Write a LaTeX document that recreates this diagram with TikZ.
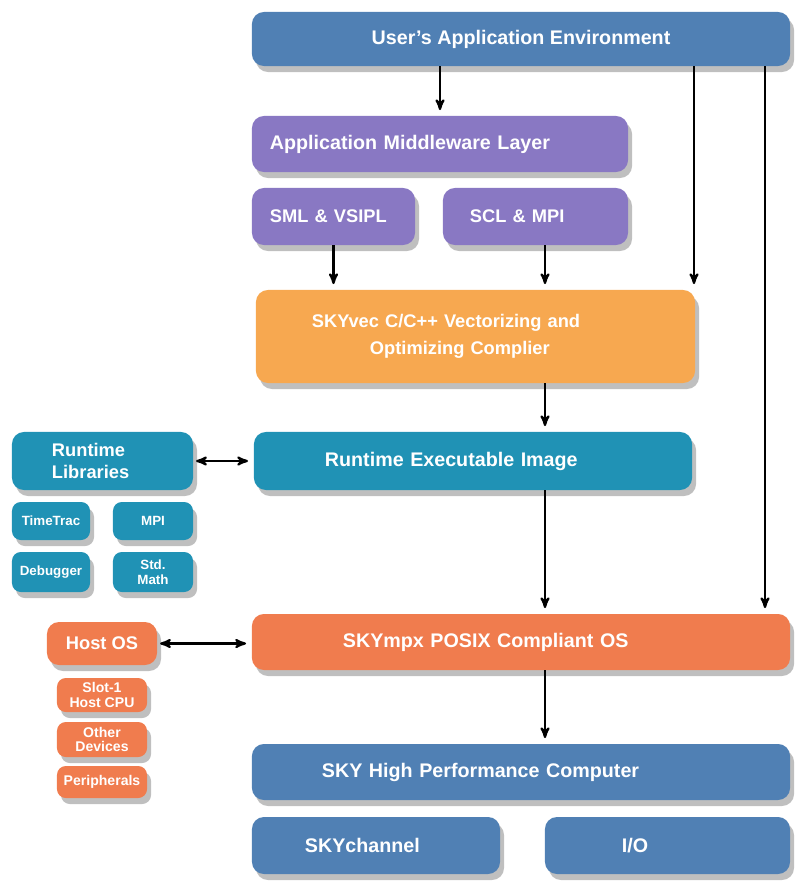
\documentclass[tikz,border=0pt]{standalone}
\usepackage{fontspec}
\setmainfont{Liberation Sans}
\usetikzlibrary{arrows,calc,shadows}
\tikzset{>=stealth'}
\definecolor{skyblue}{RGB}{80,128,180}
\definecolor{mwpurple}{RGB}{137,120,195}
\definecolor{vecorange}{RGB}{247,168,80}
\definecolor{rtteal}{RGB}{32,146,181}
\definecolor{osorange}{RGB}{240,124,78}

\begin{document}
\begin{tikzpicture}[x=0.025cm,y=-0.025cm,
        box/.style={rounded corners=0.3cm,text=white,inner sep=0pt,
          font=\fontsize{13}{15}\selectfont\bfseries,align=center,
          drop shadow={shadow xshift=0.1cm,shadow yshift=-0.15cm,opacity=0.5}},
        big/.style={box,font=\fontsize{14}{16}\selectfont\bfseries},
        small/.style={box,rounded corners=0.22cm,
          font=\fontsize{9.5}{10.5}\selectfont\bfseries},
        link/.style={draw,->,line width=1.6pt,shorten >=4pt}]
        \useasboundingbox (0,0) rectangle (800,882);
        % main column
        \node[big,fill=skyblue,minimum width=13.45cm,minimum height=1.35cm]
          (uae) at (521,39) {User's Application Environment};
        \node[big,fill=mwpurple,minimum width=9.4cm,minimum height=1.4cm,
          text width=8.5cm,align=left] (aml) at (440,144) {Application Middleware Layer};
        \node[box,fill=mwpurple,minimum width=4.075cm,minimum height=1.425cm,
          text width=3.175cm,align=left] (sml) at (333.5,216.5) {SML \& VSIPL};
        \node[box,fill=mwpurple,minimum width=4.625cm,minimum height=1.425cm,
          text width=3.275cm,align=left] (scl) at (535.5,216.5) {SCL \& MPI};
        \node[box,fill=vecorange,minimum width=10.975cm,minimum height=2.325cm,
          text width=8.175cm,align=left] (comp) at (475.5,336.5)
          {SKYvec C/C++ Vectorizing and\\[4pt]\hspace*{1.45cm}Optimizing Complier};
        \node[big,fill=rtteal,minimum width=10.95cm,minimum height=1.45cm,
          text width=7.4cm,align=left] (rei) at (473,461) {Runtime Executable Image};
        \node[big,fill=osorange,minimum width=13.45cm,minimum height=1.4cm,
          text width=8.9cm,align=left] (os) at (521,642) {SKYmpx POSIX Compliant OS};
        \node[big,fill=skyblue,minimum width=13.45cm,minimum height=1.4cm,
          text width=9.95cm,align=left] (hpc) at (521,772) {SKY High Performance Computer};
        \node[big,fill=skyblue,minimum width=6.2cm,minimum height=1.425cm,
          text width=3.55cm,align=left] (chan) at (376,845.5) {SKYchannel};
        \node[big,fill=skyblue,minimum width=6.125cm,minimum height=1.425cm,
          text width=2.275cm,align=left] (io) at (667.5,845.5) {I/O};
        % runtime libraries
        \node[box,fill=rtteal,minimum width=4.525cm,minimum height=1.45cm,
          text width=2.525cm,align=left] (rl) at (102.5,461) {Runtime\\Libraries};
        \node[small,fill=rtteal,minimum width=1.95cm,minimum height=0.95cm]
          (tt) at (51,521) {TimeTrac};
        \node[small,fill=rtteal,minimum width=2cm,minimum height=0.95cm]
          (mpi) at (153,521) {MPI};
        \node[small,fill=rtteal,minimum width=1.95cm,minimum height=1cm]
          (dbg) at (51,572) {Debugger};
        \node[small,fill=rtteal,minimum width=2cm,minimum height=1cm]
          (math) at (153,572) {Std.\\Math};
        % host side
        \node[box,fill=osorange,minimum width=2.75cm,minimum height=1.075cm]
          (host) at (102,643.5) {Host OS};
        \node[small,fill=osorange,font=\fontsize{10}{10.5}\selectfont\bfseries,
          minimum width=2.25cm,minimum height=0.85cm] (slot) at (102,695) {Slot-1\\Host CPU};
        \node[small,fill=osorange,font=\fontsize{10}{10.5}\selectfont\bfseries,
          minimum width=2.25cm,minimum height=0.875cm] (dev) at (102,739.5) {Other\\Devices};
        \node[small,fill=osorange,font=\fontsize{10}{10.5}\selectfont\bfseries,
          minimum width=2.25cm,minimum height=0.8cm] (per) at (102,782) {Peripherals};
        % arrow columns
        \coordinate (colM) at (545,0);
        \coordinate (colA) at (694,0);
        \coordinate (colB) at (765,0);
        \draw[link] (uae.south -| aml) -- (aml.north);
        \draw[link] (sml.south) -- (sml.south |- comp.north);
        \draw[link] (scl.south -| colM) -- (comp.north -| colM);
        \draw[link] (uae.south -| colA) -- (comp.north -| colA);
        \draw[link] (uae.south -| colB) -- (os.north -| colB);
        \draw[link] (comp.south -| colM) -- (rei.north -| colM);
        \draw[link] (rei.south -| colM) -- (os.north -| colM);
        \draw[link] (os.south -| colM) -- (hpc.north -| colM);
        \draw[link,<->,shorten <=2pt] (rl.east) -- (rei.west);
        \draw[link,<->,shorten <=2pt] (host.east) -- (host.east -| os.west);
\end{tikzpicture}
\end{document}
